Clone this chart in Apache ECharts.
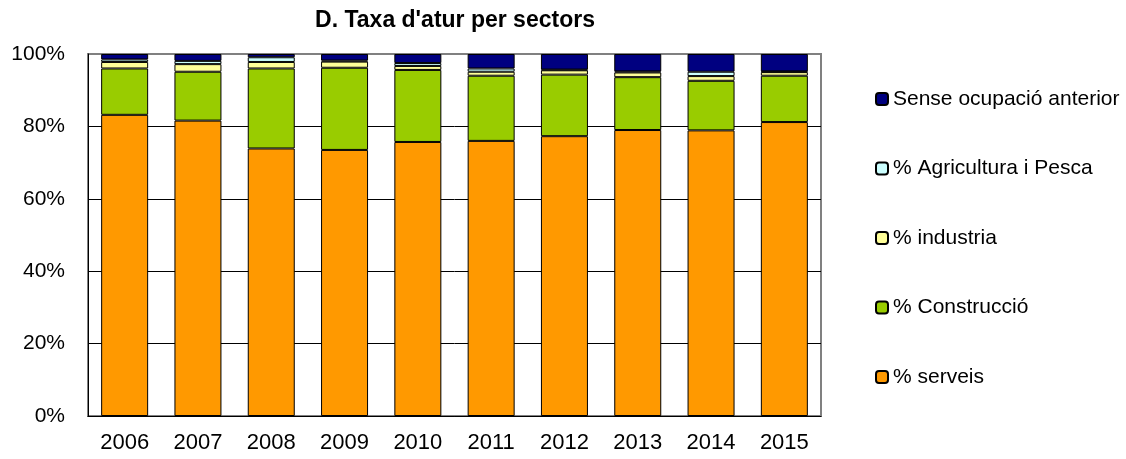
<!DOCTYPE html>
<html lang="ca">
  <head>
    <meta charset="UTF-8" />
    <title>Taxa d'atur per sectors</title>
    <style>
      html, body { margin: 0; padding: 0; background: #fff; }
    </style>
  </head>
  <body>
    <div id="main" style="width: 1126px; height: 459px"></div>
    <script src="https://cdn.jsdelivr.net/npm/echarts@6/dist/echarts.min.js"></script>
    <script>
      var years = ["2006", "2007", "2008", "2009", "2010", "2011", "2012", "2013", "2014", "2015"];
      var serveis = [83.2, 81.6, 73.9, 73.5, 75.7, 76.0, 77.3, 79.0, 78.9, 81.2];
      var construccio = [12.8, 13.5, 22.1, 22.7, 19.9, 18.0, 17.0, 14.6, 13.7, 12.8];
      var industria = [1.8, 2.1, 1.8, 1.7, 1.1, 1.1, 1.2, 1.3, 1.3, 1.0];
      var agricultura = [0.7, 0.9, 1.3, 0.3, 0.8, 0.9, 0.2, 0.3, 1.2, 0.2];
      var senseOcupacio = [1.5, 1.9, 0.9, 1.8, 2.5, 4.0, 4.3, 4.8, 4.9, 4.8];
      var yTicks = [0, 20, 40, 60, 80, 100];

      var font = "Liberation Sans, Arial, sans-serif";

      function serie(name, data, color) {
        return {
          name: name,
          type: "bar",
          stack: "total",
          barWidth: 47,
          data: data,
          itemStyle: { color: color, borderColor: "#000", borderWidth: 1 },
        };
      }

      var myChart = echarts.init(document.getElementById("main"));
      myChart.setOption({
        animation: false,
        textStyle: { fontFamily: font },
        title: {
          text: "D. Taxa d'atur per sectors",
          left: 450,
          textAlign: "center",
          top: 4,
          textStyle: { fontSize: 23, fontWeight: "bold", color: "#000", fontFamily: font },
        },
        legend: {
          orient: "vertical",
          left: 870,
          top: 83,
          itemWidth: 12,
          itemHeight: 12,
          itemGap: 47.5,
          textStyle: { fontSize: 21, lineHeight: 22, color: "#000", fontFamily: font },
          data: ["Sense ocupació anterior", "% Agricultura i Pesca", "% industria", "% Construcció", "% serveis"],
        },
        grid: {
          left: 88,
          right: 305,
          top: 54,
          bottom: 43,
          show: true,
          borderColor: "#808080",
          borderWidth: 2,
        },
        xAxis: {
          type: "category",
          data: years,
          axisTick: { show: false },
          axisLine: { lineStyle: { color: "#000", width: 1 } },
          axisLabel: { fontSize: 22, color: "#000", margin: 16, fontFamily: font },
        },
        yAxis: {
          type: "value",
          min: yTicks[0],
          max: yTicks[yTicks.length - 1],
          interval: 20,
          axisLine: { show: true, lineStyle: { color: "#000", width: 1 } },
          axisTick: { show: false },
          axisLabel: {
            fontSize: 21,
            color: "#000",
            margin: 23,
            fontFamily: font,
            formatter: function (v) { return v + "%"; },
          },
          splitLine: {
            lineStyle: { color: ["#000", "#000", "#000", "#000", "#000", "#808080"], width: 1 },
          },
        },
        series: [
          serie("% serveis", serveis, "#FF9900"),
          serie("% Construcció", construccio, "#99CC00"),
          serie("% industria", industria, "#FFFF99"),
          serie("% Agricultura i Pesca", agricultura, "#CCFFFF"),
          serie("Sense ocupació anterior", senseOcupacio, "#000080"),
        ],
      });
    </script>
  </body>
</html>
